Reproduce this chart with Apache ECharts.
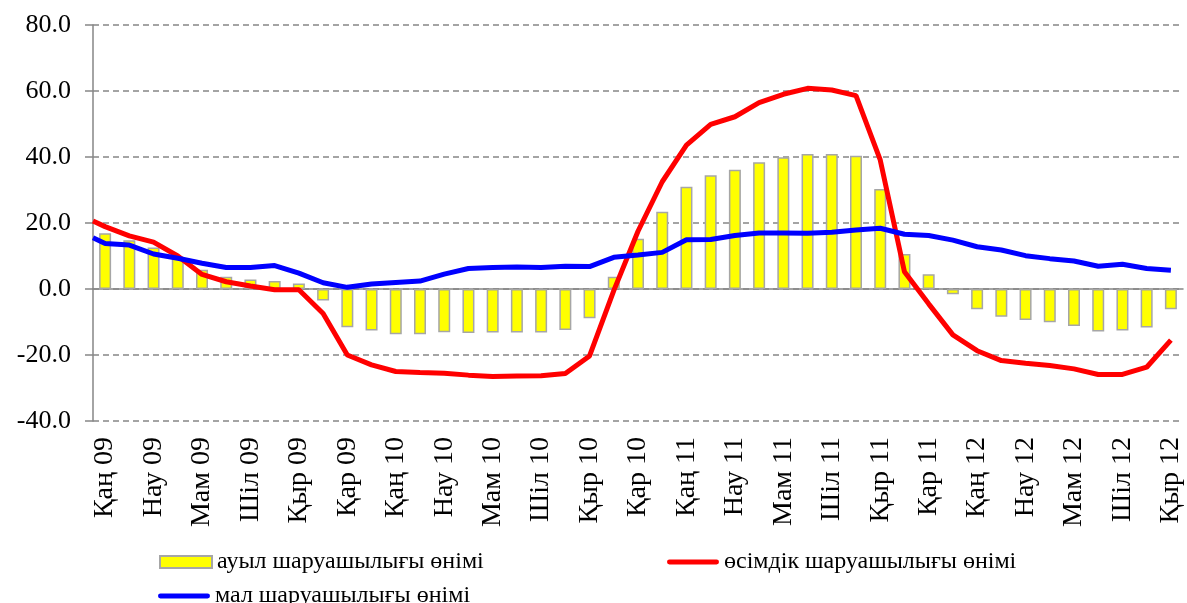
<!DOCTYPE html>
<html lang="kk">
<head>
    <meta charset="UTF-8" />
    <title>Ауыл шаруашылығы өнімі</title>
    <script src="https://cdn.jsdelivr.net/npm/echarts@6.0.0/dist/echarts.min.js"></script>
    <style>
        html, body { margin: 0; padding: 0; background: #fff; }
        #main { width: 1187px; height: 603px; }
    </style>
</head>
<body>
    <div id="main"></div>
    <script>
        // айлар (Қаң 09 - Қыр 12)
        var months = [
            'Қаң 09', 'Ақп 09', 'Нау 09', 'Сәу 09', 'Мам 09', 'Мау 09', 'Шіл 09', 'Там 09', 'Қыр 09', 'Қаз 09', 'Қар 09', 'Жел 09',
            'Қаң 10', 'Ақп 10', 'Нау 10', 'Сәу 10', 'Мам 10', 'Мау 10', 'Шіл 10', 'Там 10', 'Қыр 10', 'Қаз 10', 'Қар 10', 'Жел 10',
            'Қаң 11', 'Ақп 11', 'Нау 11', 'Сәу 11', 'Мам 11', 'Мау 11', 'Шіл 11', 'Там 11', 'Қыр 11', 'Қаз 11', 'Қар 11', 'Жел 11',
            'Қаң 12', 'Ақп 12', 'Нау 12', 'Сәу 12', 'Мам 12', 'Мау 12', 'Шіл 12', 'Там 12', 'Қыр 12'
        ];

        // ауыл шаруашылығы өнімі (бағандар)
        var agriculture = [
            16.9, 14.8, 12.6, 9.8, 5.8, 3.7, 2.9, 2.4, 1.7, -3.5, -11.6, -12.6,
            -13.7, -13.7, -13.1, -13.3, -13.2, -13.2, -13.2, -12.4, -8.9, 3.7, 15.2, 23.4,
            31.0, 34.5, 36.1, 38.4, 39.9, 40.9, 40.9, 40.4, 30.3, 10.6, 4.5, -1.6,
            -6.1, -8.4, -9.4, -10.1, -11.2, -12.9, -12.6, -11.7, -6.1
        ];

        // өсімдік шаруашылығы өнімі
        var plantStart = 20.6; // мән осьтің сол жақ шетінде
        var plant = [
            18.9, 16.1, 14.2, 10.0, 4.4, 2.2, 0.9, -0.2, -0.2, -7.4, -20.0, -23.0,
            -25.0, -25.3, -25.5, -26.1, -26.5, -26.4, -26.3, -25.6, -20.3, -0.5, 17.5, 32.5,
            43.6, 49.9, 52.2, 56.5, 59.0, 60.8, 60.3, 58.6, 39.1, 5.2, -4.5, -13.9,
            -18.7, -21.7, -22.5, -23.2, -24.2, -25.9, -25.9, -23.7, -15.5
        ];

        // мал шаруашылығы өнімі
        var livestockStart = 15.5;
        var livestock = [
            13.8, 13.3, 10.6, 9.3, 7.8, 6.5, 6.5, 7.1, 4.8, 1.9, 0.5, 1.5,
            2.0, 2.4, 4.5, 6.2, 6.5, 6.7, 6.5, 6.9, 6.8, 9.6, 10.3, 11.1,
            14.9, 15.0, 16.2, 17.0, 17.0, 16.9, 17.2, 17.9, 18.4, 16.6, 16.2, 14.8,
            12.8, 11.8, 10.1, 9.2, 8.5, 6.9, 7.5, 6.2, 5.7
        ];

        var seriesNames = ['ауыл шаруашылығы өнімі', 'өсімдік шаруашылығы өнімі', 'мал шаруашылығы өнімі'];

        // сызықтар y осінен басталады
        function withStart(start, values) {
            var out = [[-0.5, start]];
            values.forEach(function (v, i) { out.push([i, v]); });
            return out;
        }

        var font = 'Liberation Serif';
        var gray = '#868686';
        var lineIcon = 'path://M2,0 H50 A2.5,2.5 0 0 1 50,5 H2 A2.5,2.5 0 0 1 2,0 Z';

        var myChart = echarts.init(document.getElementById('main'));

        var option = {
            animation: false,
            textStyle: { fontFamily: font, color: '#000' },
            grid: { left: 93, right: 4, top: 25, bottom: 182 },
            legend: [
                {
                    data: [
                        { name: seriesNames[0], icon: 'rect' },
                        { name: seriesNames[1], icon: lineIcon }
                    ],
                    left: 159,
                    top: 549,
                    padding: 0,
                    itemWidth: 52,
                    itemHeight: 12,
                    itemGap: 0,
                    textStyle: { fontFamily: font, fontSize: 24, color: '#000', width: 450, lineHeight: 26 }
                },
                {
                    data: [{ name: seriesNames[2], icon: lineIcon }],
                    left: 158,
                    top: 583,
                    padding: 0,
                    itemWidth: 52,
                    itemHeight: 12,
                    textStyle: { fontFamily: font, fontSize: 24, color: '#000', lineHeight: 26 }
                }
            ],
            xAxis: [
                {
                    type: 'category',
                    data: months,
                    boundaryGap: true,
                    axisLine: { onZero: true, lineStyle: { color: gray, width: 1.5 } },
                    axisTick: { interval: 1, length: 7, lineStyle: { color: gray, width: 1.5 } },
                    axisLabel: { show: false },
                    splitLine: { show: false }
                },
                {
                    type: 'category',
                    data: months,
                    position: 'bottom',
                    boundaryGap: true,
                    axisLine: { show: false, onZero: false },
                    axisTick: { show: false },
                    axisLabel: {
                        interval: 1,
                        rotate: 90,
                        margin: 16,
                        fontFamily: font,
                        fontSize: 28,
                        color: '#000'
                    },
                    splitLine: { show: false }
                },
                {
                    type: 'value',
                    min: -0.5,
                    max: 44.5,
                    show: false
                }
            ],
            yAxis: {
                type: 'value',
                min: -40,
                max: 80,
                interval: 20,
                axisLine: { show: true, onZero: false, lineStyle: { color: gray, width: 1.5 } },
                axisTick: { show: true, length: 8, lineStyle: { color: gray, width: 1.5 } },
                axisLabel: {
                    margin: 22,
                    fontFamily: font,
                    fontSize: 26,
                    color: '#000',
                    formatter: function (v) { return v.toFixed(1); }
                },
                splitLine: { lineStyle: { color: gray, width: 1.5, type: [6, 4] } }
            },
            series: [
                {
                    name: seriesNames[0],
                    type: 'bar',
                    xAxisIndex: 0,
                    data: agriculture,
                    barWidth: 12,
                    itemStyle: { color: '#ffff00', borderColor: '#a6a6a6', borderWidth: 1.5 }
                },
                {
                    name: seriesNames[1],
                    type: 'line',
                    xAxisIndex: 2,
                    data: withStart(plantStart, plant),
                    showSymbol: false,
                    symbol: 'none',
                    itemStyle: { color: '#ff0000' },
                    lineStyle: { color: '#ff0000', width: 5 },
                    z: 3
                },
                {
                    name: seriesNames[2],
                    type: 'line',
                    xAxisIndex: 2,
                    data: withStart(livestockStart, livestock),
                    showSymbol: false,
                    symbol: 'none',
                    itemStyle: { color: '#0000ff' },
                    lineStyle: { color: '#0000ff', width: 5 },
                    z: 4
                }
            ]
        };

        myChart.setOption(option);
    </script>
</body>
</html>
